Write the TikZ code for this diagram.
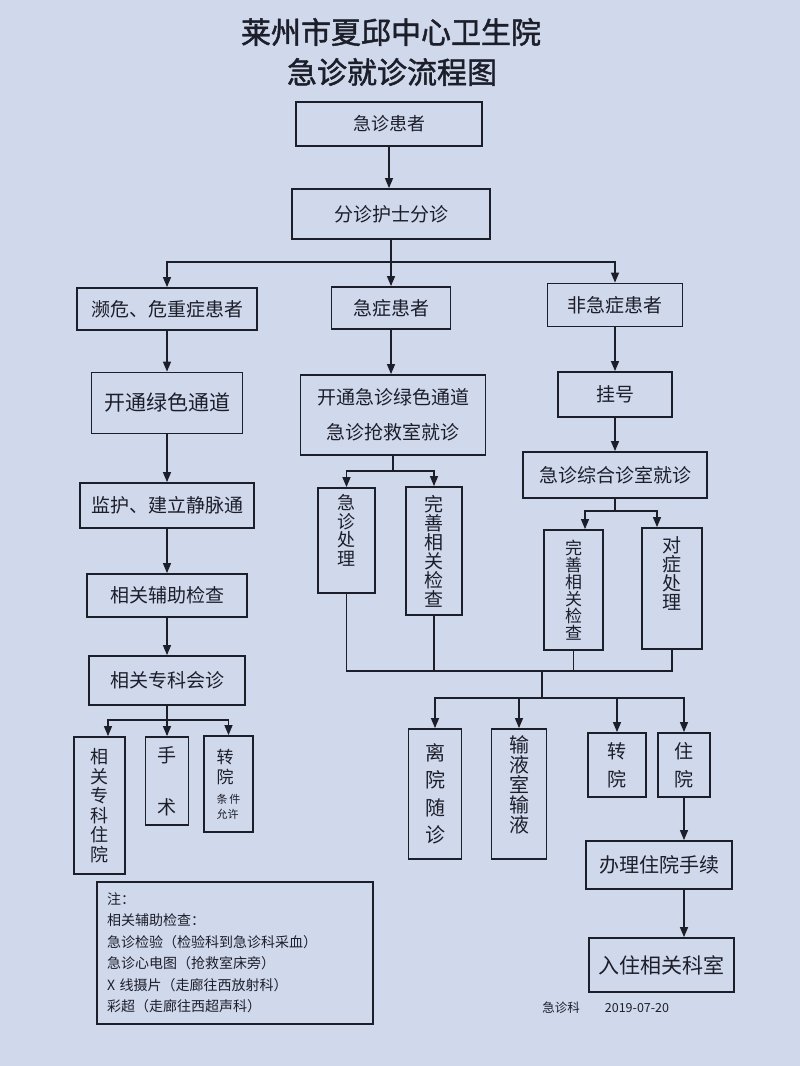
\documentclass[tikz,border=0pt]{standalone}
\usepackage{fontspec}
\setmainfont{Noto Sans CJK SC}
\newfontfamily\titlefont{Noto Sans CJK SC}[FakeBold=1.5]
\usetikzlibrary{arrows.meta}
\definecolor{paper}{RGB}{208,216,235}
\definecolor{ink}{RGB}{28,30,42}

\begin{document}
\begin{tikzpicture}[
			x=1pt, y=-1pt,
			fs/.style 2 args={font=\fontsize{#1}{#2}\selectfont},
			box/.style={draw=ink, line width=1.8pt, text=ink, inner sep=0pt, align=center, fs={19}{19}},
			arr/.style={draw=ink, line width=1.3pt, -{Triangle[length=10pt,width=8pt]}},
			line/.style={draw=ink, line width=1.3pt}
		]
		\useasboundingbox (0,0) rectangle (800,1066);
		\fill[paper] (0,0) rectangle (800,1066);

		\node[text=ink, font=\titlefont\fontsize{30}{30}\selectfont] (title1) at (391,32) {莱州市夏邱中心卫生院};
		\node[text=ink, font=\titlefont\fontsize{30}{30}\selectfont] (title2) at (392,72) {急诊就诊流程图};

		\node[box, fs={18}{18}, minimum width=186pt, minimum height=44pt] (patient) at (389,124) {急诊患者};
		\node[box, minimum width=198pt, minimum height=50pt] (triage) at (391,214) {分诊护士分诊};

		\node[box, minimum width=180pt, minimum height=42pt] (critical) at (167,309) {濒危、危重症患者};
		\node[box, minimum width=119pt, minimum height=42pt] (acute) at (391,308) {急症患者};
		\node[box, minimum width=135pt, minimum height=43pt] (nonacute) at (615,305) {非急症患者};

		\node[box, fs={21}{21}, minimum width=151pt, minimum height=61pt] (green) at (167,403) {开通绿色通道};
		\node[box, fs={19}{35}, minimum width=185pt, minimum height=80pt] (rescue) at (393,415) {开通急诊绿色通道\\急诊抢救室就诊};
		\node[box, minimum width=114pt, minimum height=45pt] (register) at (615,394.5) {挂号};
		\node[box, minimum width=184pt, minimum height=46pt] (clinic) at (615,475) {急诊综合诊室就诊};

		\node[box, minimum width=174pt, minimum height=45pt] (monitor) at (167,505.5) {监护、建立静脉通};
		\node[box, minimum width=160pt, minimum height=43pt] (auxcheck) at (167,595.5) {相关辅助检查};
		\node[box, minimum width=156pt, minimum height=49pt] (consult) at (167,680.5) {相关专科会诊};

		\node[box, fs={18}{19.5}, minimum width=51pt, minimum height=137pt] (specward) at (99.5,805.5) {相\\关\\专\\科\\住\\院};
		\node[box, fs={19}{52}, minimum width=43pt, minimum height=88pt] (surgery) at (167,781) {手\\术};
		\node[box, fs={17}{20}, align=left, minimum width=49pt, minimum height=96pt] (transferL) at (228.5,784) {转\\院\\{\fontsize{11}{11}\selectfont 条\,件}\\[-5pt]{\fontsize{11}{11}\selectfont 允许}};

		\node[box, fs={18}{18.5}, text depth=21pt, minimum width=57pt, minimum height=105pt] (emergtreat) at (346.5,540.5) {急\\诊\\处\\理};
		\node[box, minimum width=56pt, minimum height=128pt] (checkA) at (434,551) {完\\善\\相\\关\\检\\查};
		\node[box, fs={17}{17}, minimum width=59pt, minimum height=120pt] (checkB) at (573.5,590) {完\\善\\相\\关\\检\\查};
		\node[box, text depth=31pt, minimum width=60pt, minimum height=121pt] (symptom) at (672,588.5) {对\\症\\处\\理};

		\node[box, fs={20}{27.5}, minimum width=53pt, minimum height=130pt] (leave) at (435,794) {离\\院\\随\\诊};
		\node[box, fs={20}{20}, text depth=20pt, minimum width=55pt, minimum height=130pt] (infusion) at (519,794) {输\\液\\室\\输\\液};
		\node[box, fs={19}{28}, minimum width=58pt, minimum height=64pt] (transferR) at (617,765) {转\\院};
		\node[box, fs={19}{28}, minimum width=52pt, minimum height=64pt] (admit) at (684,765) {住\\院};
		\node[box, fs={20}{20}, minimum width=146pt, minimum height=48pt] (formality) at (659,865) {办理住院手续};
		\node[box, fs={21}{21}, minimum width=145pt, minimum height=54pt] (ward) at (661.5,965) {入住相关科室};

		\node[box, fs={14}{21.5}, align=left, text width=256pt, minimum width=276pt, minimum height=142pt] (note) at (235,953) {注：\\相关辅助检查：\\急诊检验（检验科到急诊科采血）\\急诊心电图（抢救室床旁）\\X 线摄片（走廊往西放射科）\\彩超（走廊往西超声科）};

		\node[text=ink, fs={12.5}{12.5}] (dept) at (561,1008) {急诊科};
		\node[text=ink, fs={12.5}{12.5}] (date) at (637,1008) {2019-07-20};

		\draw[arr] (patient) -- (patient |- triage.north);
		\coordinate (split) at (391,262);
		\draw[line] (triage) -- (split);
		\draw[arr] (split) -| (critical.north);
		\draw[arr] (split) -- (acute);
		\draw[arr] (split) -| (nonacute.north);

		\draw[arr] (critical) -- (green);
		\draw[arr] (green) -- (monitor);
		\draw[arr] (monitor) -- (auxcheck);
		\draw[arr] (auxcheck) -- (consult);
		\coordinate (splitL) at (167,720);
		\draw[line] (consult) -- (splitL);
		\draw[arr] (splitL) -| ([xshift=8.5pt]specward.north);
		\draw[arr] (splitL) -- (surgery);
		\draw[arr] (splitL) -| (transferL.north);

		\draw[arr] (acute) -- (acute |- rescue.north);
		\coordinate (splitM) at (393,471);
		\draw[line] (rescue) -- (splitM);
		\draw[arr] (splitM) -| (emergtreat.north);
		\draw[arr] (splitM) -| (checkA.north);

		\draw[arr] (nonacute) -- (register);
		\draw[arr] (register) -- (clinic);
		\coordinate (splitR) at (615,511);
		\draw[line] (clinic) -- (splitR);
		\draw[arr] (splitR) -| ([xshift=11.5pt]checkB.north);
		\draw[arr] (splitR) -| ([xshift=-15pt]symptom.north);

		\coordinate (join) at (542,671);
		\draw[line] (emergtreat.south) |- (join) -| (symptom.south);
		\draw[line] (checkA.south) -- (checkA.south |- join);
		\draw[line] (checkB.south) -- (checkB.south |- join);
		\coordinate (splitB) at (542,698);
		\draw[line] (join) -- (splitB);
		\draw[arr] (splitB) -| (leave.north);
		\draw[arr] (splitB) -| (infusion.north);
		\draw[arr] (splitB) -| (transferR.north);
		\draw[arr] (splitB) -| (admit.north);
		\draw[arr] (admit) -- (admit |- formality.north);
		\draw[arr] (formality.south -| admit) -- (ward.north -| admit);
	\end{tikzpicture}
\end{document}
